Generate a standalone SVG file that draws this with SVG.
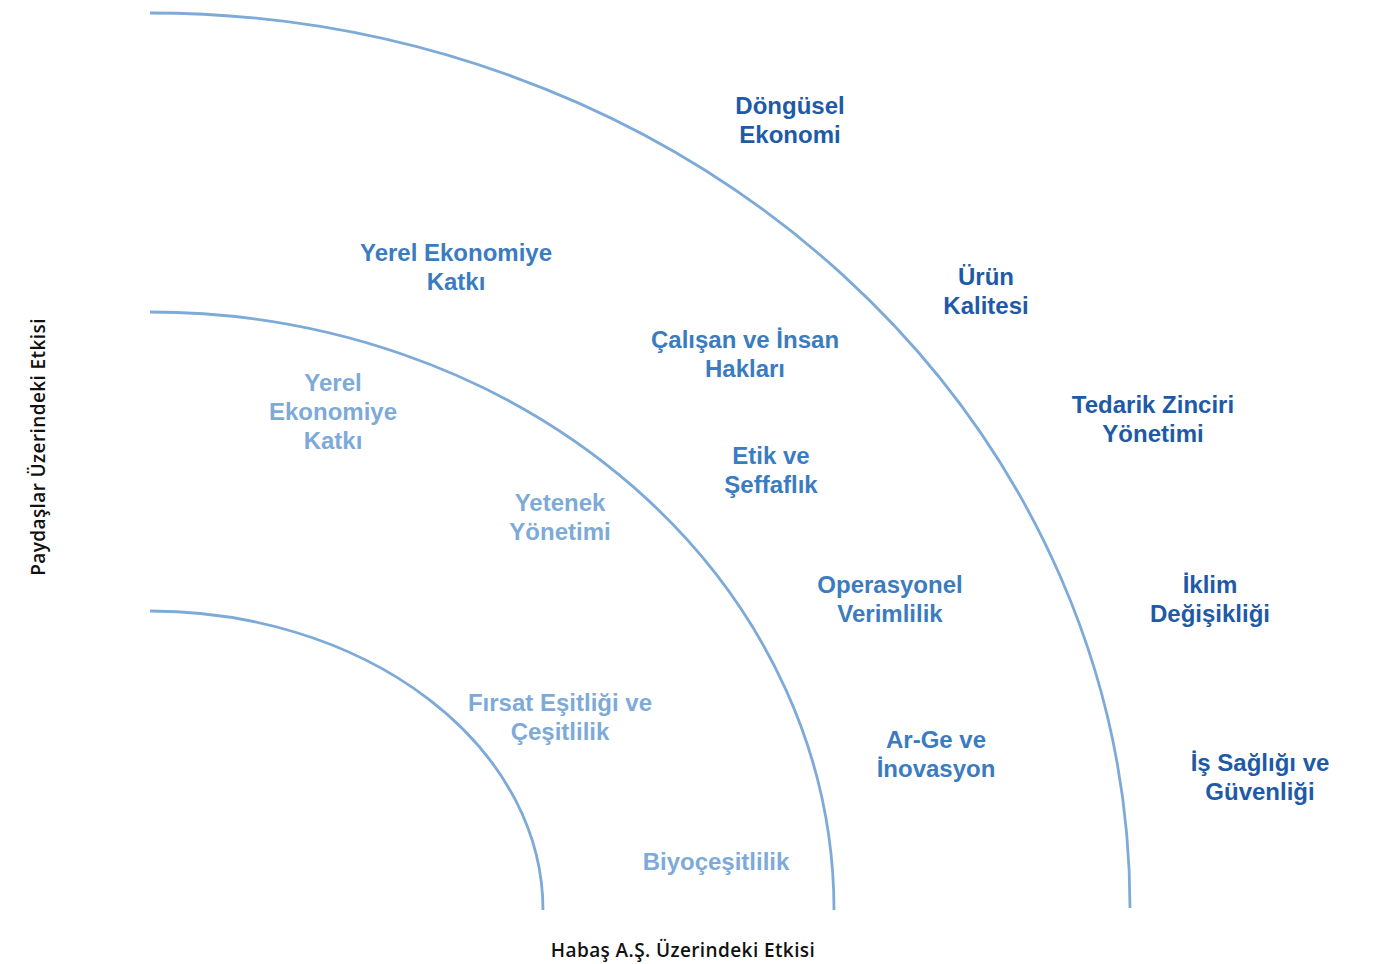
<svg xmlns="http://www.w3.org/2000/svg" width="1380" height="964" viewBox="0 0 1380 964">
<style>
.arc{fill:none;stroke:#7eaad8;stroke-width:2.8}
.t{font-family:"Liberation Sans",Arial,sans-serif;font-weight:bold;font-size:24px;text-anchor:middle}
.d{fill:#1f5aa6}
.m{fill:#3b7cc0}
.l{fill:#7eaad8}
.ax{font-family:"Open Sans","DejaVu Sans",sans-serif;font-weight:600;font-size:19px;letter-spacing:0.4px;fill:#111;text-anchor:middle}
</style>
<rect width="1380" height="964" fill="#fff"/>
<g id="connectors">
<path class="arc" d="M150,13 A980,895 0 0 1 1130,908"/>
<path class="arc" d="M150,312 A684,598 0 0 1 834,910"/>
<path class="arc" d="M150,611 A393,299 0 0 1 543,910"/>
</g>
<g id="n1"><text class="t d" x="790" y="114">Döngüsel</text><text class="t d" x="790" y="143">Ekonomi</text></g>
<g id="n2"><text class="t d" x="986" y="285">Ürün</text><text class="t d" x="986" y="314">Kalitesi</text></g>
<g id="n3"><text class="t d" x="1153" y="413">Tedarik Zinciri</text><text class="t d" x="1153" y="442">Yönetimi</text></g>
<g id="n4"><text class="t d" x="1210" y="593">İklim</text><text class="t d" x="1210" y="622">Değişikliği</text></g>
<g id="n5"><text class="t d" x="1260" y="771">İş Sağlığı ve</text><text class="t d" x="1260" y="800">Güvenliği</text></g>
<g id="n6"><text class="t m" x="456" y="261">Yerel Ekonomiye</text><text class="t m" x="456" y="290">Katkı</text></g>
<g id="n7"><text class="t m" x="745" y="348">Çalışan ve İnsan</text><text class="t m" x="745" y="377">Hakları</text></g>
<g id="n8"><text class="t m" x="771" y="464">Etik ve</text><text class="t m" x="771" y="493">Şeffaflık</text></g>
<g id="n9"><text class="t m" x="890" y="593">Operasyonel</text><text class="t m" x="890" y="622">Verimlilik</text></g>
<g id="n10"><text class="t m" x="936" y="748">Ar-Ge ve</text><text class="t m" x="936" y="777">İnovasyon</text></g>
<g id="n11"><text class="t l" x="333" y="391">Yerel</text><text class="t l" x="333" y="420">Ekonomiye</text><text class="t l" x="333" y="449">Katkı</text></g>
<g id="n12"><text class="t l" x="560" y="511">Yetenek</text><text class="t l" x="560" y="540">Yönetimi</text></g>
<g id="n13"><text class="t l" x="560" y="711">Fırsat Eşitliği ve</text><text class="t l" x="560" y="740">Çeşitlilik</text></g>
<g id="n14"><text class="t l" x="716" y="870">Biyoçeşitlilik</text></g>
<g id="axes">
<text class="ax" x="683" y="957">Habaş A.Ş. Üzerindeki Etkisi</text>
<text class="ax" transform="translate(45,447) rotate(-90)">Paydaşlar Üzerindeki Etkisi</text>
</g>
</svg>
